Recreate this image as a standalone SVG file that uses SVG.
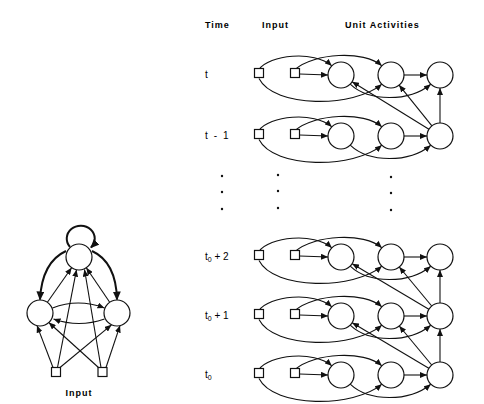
<svg xmlns="http://www.w3.org/2000/svg" width="484" height="404" viewBox="0 0 484 404">
<defs>
<marker id="ah" markerUnits="userSpaceOnUse" markerWidth="7" markerHeight="6" refX="7" refY="3" orient="auto"><path d="M0,0 L7,3 L0,6 z" fill="#111"/></marker>
<marker id="ahb" markerUnits="userSpaceOnUse" markerWidth="9" markerHeight="8" refX="8" refY="4" orient="auto"><path d="M0,0 L9,4 L0,8 z" fill="#111"/></marker>
<style>
.n{fill:#fff;stroke:#111;stroke-width:1.2}
.c{fill:none;stroke:#111;stroke-width:1.1;marker-end:url(#ah)}
.ct{fill:none;stroke:#111;stroke-width:2;marker-end:url(#ahb)}
.h{font-family:"Liberation Sans",Arial,sans-serif;font-weight:bold;font-size:9px;letter-spacing:1px;fill:#000}
.l{font-family:"Liberation Sans",Arial,sans-serif;font-size:10px;fill:#000}
.sub{font-size:7px}
.d{fill:#111}
</style>
</defs>
<rect width="484" height="404" fill="#fff"/>

<g id="headers">
<text class="h" x="205" y="28">Time</text>
<text class="h" x="262" y="28">Input</text>
<text class="h" x="345" y="28">Unit Activities</text>
</g>
<g id="row-labels">
<text class="l" x="205" y="78">t</text>
<text class="l" x="205" y="139" letter-spacing="1.6">t - 1</text>
<text class="l" x="205" y="260">t<tspan class="sub" dy="2">0</tspan><tspan dy="-2"> + 2</tspan></text>
<text class="l" x="205" y="319">t<tspan class="sub" dy="2">0</tspan><tspan dy="-2"> + 1</tspan></text>
<text class="l" x="205" y="378">t<tspan class="sub" dy="2">0</tspan></text>
</g>
<g id="dots">
<circle class="d" cx="222" cy="176" r="1.2"/><circle class="d" cx="222" cy="192" r="1.2"/><circle class="d" cx="222" cy="209" r="1.2"/>
<circle class="d" cx="278" cy="175" r="1.2"/><circle class="d" cx="278" cy="191" r="1.2"/><circle class="d" cx="278" cy="208" r="1.2"/>
<circle class="d" cx="391" cy="177" r="1.2"/><circle class="d" cx="391" cy="193" r="1.2"/><circle class="d" cx="391" cy="210" r="1.2"/>
</g>

<g id="connectors">
<g id="row-t" transform="translate(0,75)">
<path class="c" d="M299.5,-1 L328,0"/>
<path class="c" d="M259,-5.5 C269,-20 314,-25 331.8,-9.2"/>
<path class="c" d="M295,-5.5 C314,-22 364,-25 381.8,-9.2"/>
<path class="c" d="M259,3.5 C274,33 354,33 381.8,9.2"/>
<path class="c" d="M350.2,9.2 C369,27 409,27 430.8,9.2"/>
<path class="c" d="M404,0 L427,0"/>
</g>
<g id="row-t1" transform="translate(0,136)">
<path class="c" d="M299.5,-1 L328,0"/>
<path class="c" d="M259,-5.5 C269,-20 314,-25 331.8,-9.2"/>
<path class="c" d="M295,-5.5 C314,-22 364,-25 381.8,-9.2"/>
<path class="c" d="M259,3.5 C274,33 354,33 381.8,9.2"/>
<path class="c" d="M350.2,9.2 C369,27 409,27 430.8,9.2"/>
<path class="c" d="M404,0 L427,0"/>
<path class="c" d="M440,-13 L440,-48"/>
<path class="c" d="M431.9,-10.1 L399.1,-50.9"/>
<path class="c" d="M428.9,-6.8 L352.1,-54.2"/>
</g>
<g id="row-t02" transform="translate(0,257)">
<path class="c" d="M299.5,-1 L328,0"/>
<path class="c" d="M259,-5.5 C269,-20 314,-25 331.8,-9.2"/>
<path class="c" d="M295,-5.5 C314,-22 364,-25 381.8,-9.2"/>
<path class="c" d="M259,3.5 C274,33 354,33 381.8,9.2"/>
<path class="c" d="M350.2,9.2 C369,27 409,27 430.8,9.2"/>
<path class="c" d="M404,0 L427,0"/>
</g>
<g id="row-t01" transform="translate(0,316)">
<path class="c" d="M299.5,-1 L328,0"/>
<path class="c" d="M259,-5.5 C269,-20 314,-25 331.8,-9.2"/>
<path class="c" d="M295,-5.5 C314,-22 364,-25 381.8,-9.2"/>
<path class="c" d="M259,3.5 C274,33 354,33 381.8,9.2"/>
<path class="c" d="M350.2,9.2 C369,27 409,27 430.8,9.2"/>
<path class="c" d="M404,0 L427,0"/>
<path class="c" d="M440,-13 L440,-46"/>
<path class="c" d="M431.7,-10 L399.3,-49"/>
<path class="c" d="M428.8,-6.7 L352.2,-52.3"/>
</g>
<g id="row-t0" transform="translate(0,375)">
<path class="c" d="M299.5,-1 L328,0"/>
<path class="c" d="M259,-5.5 C269,-20 314,-25 331.8,-9.2"/>
<path class="c" d="M295,-5.5 C314,-22 364,-25 381.8,-9.2"/>
<path class="c" d="M259,3.5 C274,33 354,33 381.8,9.2"/>
<path class="c" d="M350.2,9.2 C369,27 409,27 430.8,9.2"/>
<path class="c" d="M404,0 L427,0"/>
<path class="c" d="M440,-13 L440,-46"/>
<path class="c" d="M431.7,-10 L399.3,-49"/>
<path class="c" d="M428.8,-6.7 L352.2,-52.3"/>
</g>
<g id="left-net">
<path class="ct" d="M70,247 A14 13 0 1 1 91,247.5"/>
<path class="ct" d="M66,251 Q42,262 40,299.5"/>
<path class="ct" d="M92,251 Q116,262 117,299.5"/>
<path class="c" d="M47.4,302.3 L71.6,267.7"/>
<path class="c" d="M109.7,302.2 L86.3,267.8"/>
<path class="c" d="M52.5,308 Q78,298 104.5,308"/>
<path class="c" d="M104.5,319 Q79,328 53.5,319"/>
<path class="c" d="M57.5,367.5 L76.5,269.7"/>
<path class="c" d="M101,367.5 L84.5,269.5"/>
<path class="c" d="M53,367.5 L37,325.6"/>
<path class="c" d="M106,367.5 L120,325.6"/>
<path class="c" d="M60,367.5 L111.5,324.8"/>
<path class="c" d="M98.5,367.5 L48.8,322.5"/>
</g>
</g>

<g id="r1-s1"><rect class="n" x="254.5" y="68.5" width="9" height="9"/></g>
<g id="r1-s2"><rect class="n" x="290.5" y="68.5" width="9" height="9"/></g>
<g id="r1-a"><circle class="n" cx="341" cy="75" r="13"/></g>
<g id="r1-b"><circle class="n" cx="391" cy="75" r="13"/></g>
<g id="r1-c"><circle class="n" cx="440" cy="75" r="13"/></g>

<g id="r2-s1"><rect class="n" x="254.5" y="129.5" width="9" height="9"/></g>
<g id="r2-s2"><rect class="n" x="290.5" y="129.5" width="9" height="9"/></g>
<g id="r2-a"><circle class="n" cx="341" cy="136" r="13"/></g>
<g id="r2-b"><circle class="n" cx="391" cy="136" r="13"/></g>
<g id="r2-c"><circle class="n" cx="440" cy="136" r="13"/></g>

<g id="r3-s1"><rect class="n" x="254.5" y="250.5" width="9" height="9"/></g>
<g id="r3-s2"><rect class="n" x="290.5" y="250.5" width="9" height="9"/></g>
<g id="r3-a"><circle class="n" cx="341" cy="257" r="13"/></g>
<g id="r3-b"><circle class="n" cx="391" cy="257" r="13"/></g>
<g id="r3-c"><circle class="n" cx="440" cy="257" r="13"/></g>

<g id="r4-s1"><rect class="n" x="254.5" y="309.5" width="9" height="9"/></g>
<g id="r4-s2"><rect class="n" x="290.5" y="309.5" width="9" height="9"/></g>
<g id="r4-a"><circle class="n" cx="341" cy="316" r="13"/></g>
<g id="r4-b"><circle class="n" cx="391" cy="316" r="13"/></g>
<g id="r4-c"><circle class="n" cx="440" cy="316" r="13"/></g>

<g id="r5-s1"><rect class="n" x="254.5" y="368.5" width="9" height="9"/></g>
<g id="r5-s2"><rect class="n" x="290.5" y="368.5" width="9" height="9"/></g>
<g id="r5-a"><circle class="n" cx="341" cy="375" r="13"/></g>
<g id="r5-b"><circle class="n" cx="391" cy="375" r="13"/></g>
<g id="r5-c"><circle class="n" cx="440" cy="375" r="13"/></g>

<g id="left-top"><circle class="n" cx="79" cy="257" r="13"/></g>
<g id="left-l"><circle class="n" cx="40" cy="313" r="13"/></g>
<g id="left-r"><circle class="n" cx="117" cy="313" r="13"/></g>
<g id="left-in1"><rect class="n" x="51.5" y="367.5" width="9" height="9"/></g>
<g id="left-in2"><rect class="n" x="98" y="367.5" width="9" height="9"/></g>
<g id="left-label"><text class="h" x="79" y="396" text-anchor="middle" letter-spacing="0.5">Input</text></g>
</svg>
